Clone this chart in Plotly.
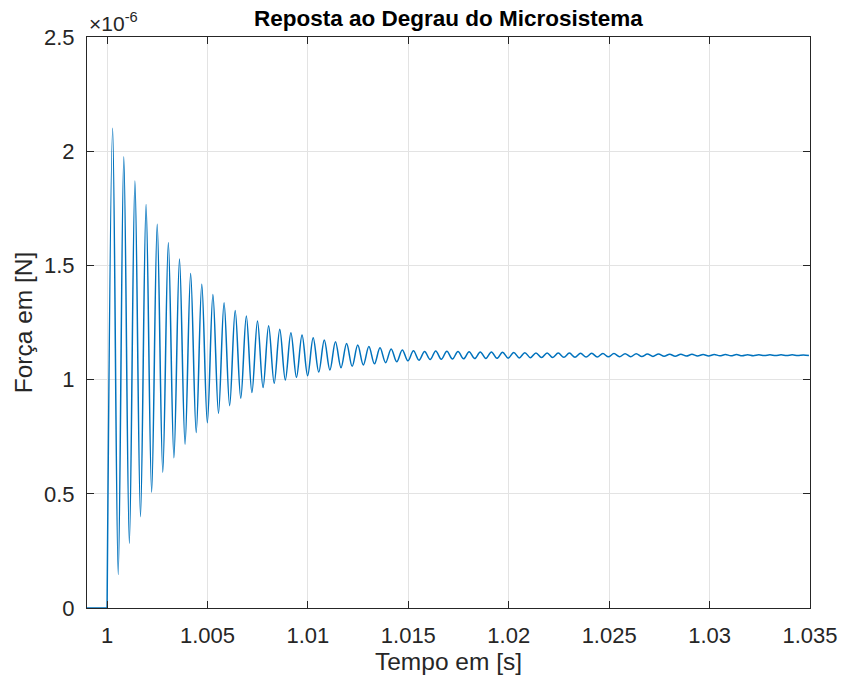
import numpy as np
import plotly.graph_objects as go

# ---- data (force in units of 1e-6 N) ----
step_time = 1.0
half_period = 0.00027735          # read from spacing of the peaks
pre_step_t = [0.999, 1.0]
pre_step_f = [0.0, 0.0]

peak_vals = [2.100, 1.976, 1.870, 1.767, 1.680, 1.600, 1.528, 1.465, 1.417, 1.373,
             1.337, 1.302, 1.278, 1.257, 1.236, 1.220, 1.205, 1.195, 1.183, 1.173,
             1.166, 1.158, 1.151, 1.145, 1.139, 1.134, 1.130, 1.126, 1.123,
             1.125, 1.124, 1.123, 1.122, 1.121, 1.121, 1.120, 1.119, 1.118, 1.117,
             1.117, 1.116, 1.116, 1.115, 1.115, 1.114, 1.114, 1.113, 1.113, 1.112,
             1.112, 1.111, 1.111, 1.1105, 1.110, 1.110, 1.1097, 1.1094, 1.1091, 1.1089,
             1.1087, 1.1085, 1.1083, 1.1082]
trough_vals = [0.147, 0.283, 0.400, 0.507, 0.594, 0.658, 0.717, 0.768, 0.811, 0.852,
               0.886, 0.918, 0.943, 0.965, 0.984, 0.998, 1.010, 1.017, 1.033, 1.042,
               1.052, 1.058, 1.064, 1.069, 1.074, 1.078, 1.082, 1.085,
               1.088, 1.089, 1.090, 1.091, 1.092, 1.0925, 1.093, 1.094, 1.095, 1.096,
               1.0965, 1.097, 1.0975, 1.098, 1.0985, 1.099, 1.0995, 1.100, 1.1005, 1.101,
               1.1015, 1.102, 1.1025, 1.103, 1.1033, 1.1037, 1.104, 1.1043, 1.1046, 1.1049,
               1.1051, 1.1053, 1.1055, 1.1057, 1.1058]

x_ticks = [1.0, 1.005, 1.01, 1.015, 1.02, 1.025, 1.03, 1.035]
x_tick_labels = ["1", "1.005", "1.01", "1.015", "1.02", "1.025", "1.03", "1.035"]
y_ticks = [0, 0.5, 1, 1.5, 2, 2.5]
y_tick_labels = ["0", "0.5", "1", "1.5", "2", "2.5"]

# interleave extremes (peak, trough, peak, ...)
ext_vals = [0.0]
for p, t in zip(peak_vals, trough_vals):
    ext_vals += [p, t]
ext_t = [step_time + i * half_period for i in range(len(ext_vals))]

FONT = "Liberation Sans, Arial, Helvetica, sans-serif"
TXT = "#262626"
BLUE = "#0072BD"

fig = go.Figure()
fig.add_trace(go.Scatter(x=pre_step_t, y=pre_step_f, mode="lines",
                         line=dict(color=BLUE, width=1.5), showlegend=False))
fig.add_trace(go.Scatter(x=ext_t, y=ext_vals, mode="lines",
                         line=dict(color=BLUE, width=1.5, shape="spline", smoothing=1.0),
                         showlegend=False))

axis_common = dict(showline=True, linecolor=TXT, linewidth=1, mirror="ticks",
                   ticks="inside", ticklen=7, tickcolor=TXT, tickwidth=1,
                   showgrid=True, gridcolor="#e3e3e3", gridwidth=1, zeroline=False,
                   tickfont=dict(family=FONT, size=22, color=TXT))

fig.update_xaxes(range=[0.999, 1.035], tickvals=x_ticks, ticktext=x_tick_labels,
                 title=dict(text="Tempo em [s]", font=dict(family=FONT, size=24.5, color=TXT),
                            standoff=4),
                 ticklabelstandoff=8, **axis_common)
fig.update_yaxes(range=[0, 2.5], tickvals=y_ticks, ticktext=y_tick_labels,
                 title=dict(text="Força em [N]", font=dict(family=FONT, size=24.5, color=TXT),
                            standoff=4),
                 ticklabelstandoff=7, **axis_common)

fig.update_layout(
    width=843, height=680,
    margin=dict(l=87, r=33, t=37, b=72, autoexpand=False),
    paper_bgcolor="white", plot_bgcolor="white",
    title=dict(text="<b>Reposta ao Degrau do Microsistema</b>",
               font=dict(family=FONT, size=22.5, color="black"),
               x=0.532, xanchor="center", y=0.974, yanchor="middle"),
    annotations=[dict(text="×10<sup>-6</sup>", xref="paper", yref="paper",
                      x=0.0, y=1.0, xanchor="left", yanchor="bottom", yshift=0,
                      showarrow=False, font=dict(family=FONT, size=21, color=TXT))],
)

fig.write_html("out.html")
